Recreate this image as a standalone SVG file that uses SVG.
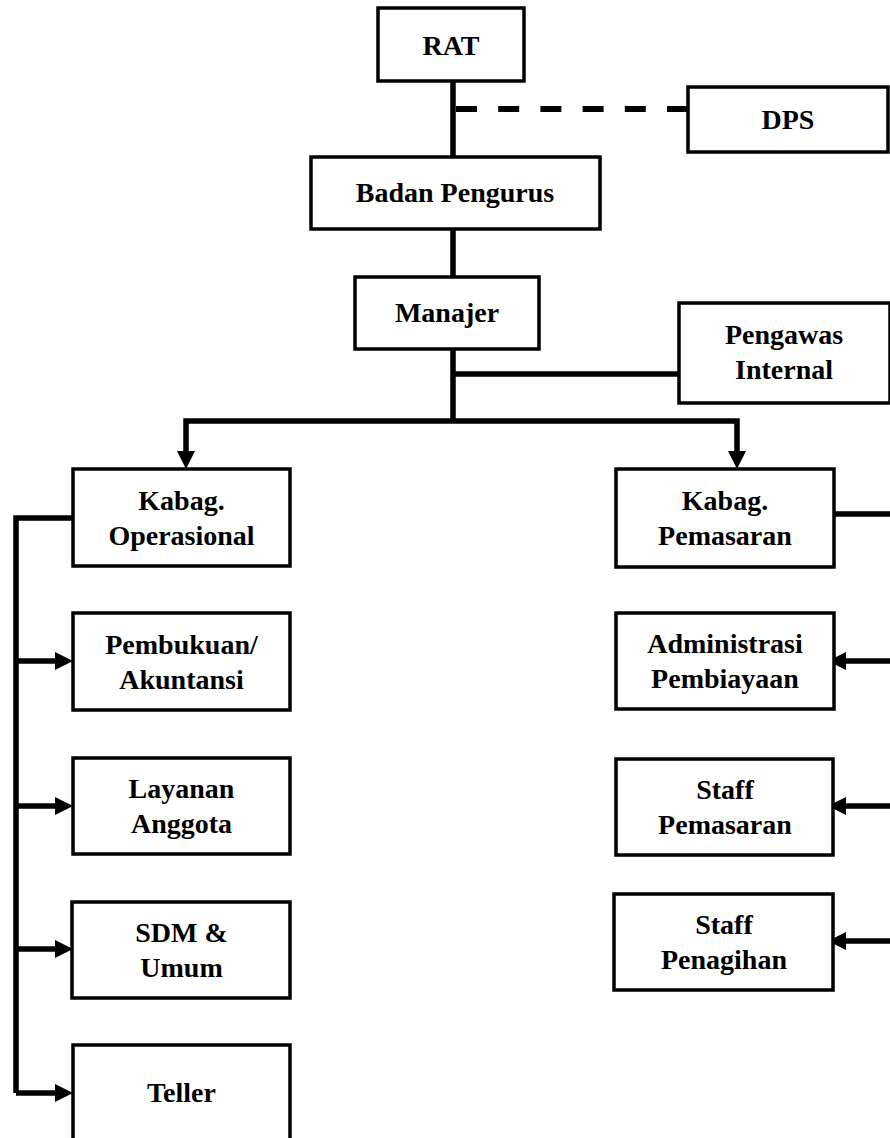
<svg xmlns="http://www.w3.org/2000/svg" width="890" height="1138" viewBox="0 0 890 1138">
<style>
.box{fill:#fff;stroke:#000;stroke-width:3.5}
.t{font-family:"Liberation Serif","Times New Roman",serif;font-weight:bold;font-size:28px;fill:#000;text-anchor:middle}
.ln{fill:none;stroke:#000;stroke-width:5.5;stroke-linejoin:miter;stroke-linecap:butt}
.dash{fill:none;stroke:#000;stroke-width:6;stroke-dasharray:21 21.2}
.ah{fill:#000}
</style>
<rect width="890" height="1138" fill="#fff"/>
<g id="connectors">
<path class="ln" d="M453 81 V157 M453 229 V277 M453 349 V421"/>
<path class="dash" d="M456 109 H688"/>
<path class="ln" d="M453 374 H679"/>
<path class="ln" d="M186 452 V421 H737 V452"/>
<polygon class="ah" points="177,451 195,451 186,469"/>
<polygon class="ah" points="728,451 746,451 737,469"/>
<path class="ln" d="M73 518 H16 V1093 M16 661 H56 M16 806 H56 M16 949 H56 M16 1093 H56"/>
<polygon class="ah" points="55,652 55,670 73,661"/>
<polygon class="ah" points="55,797 55,815 73,806"/>
<polygon class="ah" points="55,940 55,958 73,949"/>
<polygon class="ah" points="55,1084 55,1102 73,1093"/>
<path class="ln" d="M834 514 H890 M845 661 H890 M845 806 H890 M845 941 H890"/>
<polygon class="ah" points="846,652 846,670 828,661"/>
<polygon class="ah" points="846,797 846,815 828,806"/>
<polygon class="ah" points="846,932 846,950 828,941"/>
</g>
<g id="rat"><rect class="box" x="378" y="8" width="146" height="73"/><text class="t" x="451" y="55">RAT</text></g>
<g id="dps"><rect class="box" x="688" y="87" width="200" height="65"/><text class="t" x="788" y="129">DPS</text></g>
<g id="badan"><rect class="box" x="311" y="157" width="289" height="72"/><text class="t" x="455" y="202">Badan Pengurus</text></g>
<g id="manajer"><rect class="box" x="355" y="277" width="184" height="72"/><text class="t" x="447" y="322">Manajer</text></g>
<g id="pengawas"><rect class="box" x="679" y="303" width="211" height="100"/><text class="t" x="784" y="344">Pengawas</text><text class="t" x="784" y="379">Internal</text></g>
<g id="kabag-op"><rect class="box" x="73" y="469" width="217" height="97"/><text class="t" x="181.5" y="509.5">Kabag.</text><text class="t" x="181.5" y="544.5">Operasional</text></g>
<g id="pembukuan"><rect class="box" x="73" y="613" width="217" height="97"/><text class="t" x="181.5" y="653.5">Pembukuan/</text><text class="t" x="181.5" y="688.5">Akuntansi</text></g>
<g id="layanan"><rect class="box" x="73" y="758" width="217" height="96"/><text class="t" x="181.5" y="798">Layanan</text><text class="t" x="181.5" y="833">Anggota</text></g>
<g id="sdm"><rect class="box" x="72" y="902" width="218" height="96"/><text class="t" x="181.5" y="942">SDM &amp;</text><text class="t" x="181.5" y="977">Umum</text></g>
<g id="teller"><rect class="box" x="73" y="1045" width="217" height="100"/><text class="t" x="181.5" y="1102">Teller</text></g>
<g id="kabag-pem"><rect class="box" x="616" y="469" width="218" height="98"/><text class="t" x="725" y="510">Kabag.</text><text class="t" x="725" y="545">Pemasaran</text></g>
<g id="administrasi"><rect class="box" x="616" y="613" width="218" height="96"/><text class="t" x="725" y="653">Administrasi</text><text class="t" x="725" y="688">Pembiayaan</text></g>
<g id="staff-pemasaran"><rect class="box" x="616" y="759" width="217" height="96"/><text class="t" x="725" y="799">Staff</text><text class="t" x="725" y="834">Pemasaran</text></g>
<g id="staff-penagihan"><rect class="box" x="614" y="894" width="219" height="96"/><text class="t" x="724" y="934">Staff</text><text class="t" x="724" y="969">Penagihan</text></g>
</svg>
